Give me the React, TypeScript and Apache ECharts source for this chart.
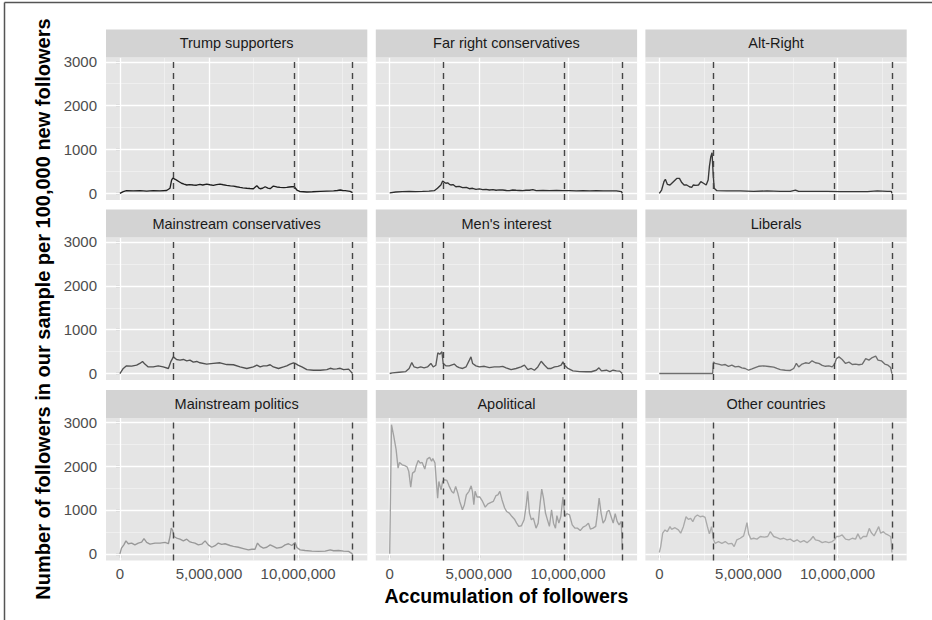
import React, { useEffect, useRef } from 'react';
import * as echarts from 'echarts';

// x values in millions of accumulated followers, y = followers per 100,000
const facetNames = [
  'Trump supporters', 'Far right conservatives', 'Alt-Right',
  'Mainstream conservatives', "Men's interest", 'Liberals',
  'Mainstream politics', 'Apolitical', 'Other countries',
];

const trumpSupporters = [[0,0],[0.19,40],[0.37,60],[0.75,55],[1.12,60],[1.5,50],[1.87,60],[2.25,55],[2.62,65],[2.81,115],[2.9,300],[2.97,350],[3.1,320],[3.18,300],[3.3,270],[3.46,230],[3.6,210],[3.75,190],[3.9,200],[4.12,190],[4.3,185],[4.49,205],[4.65,190],[4.87,210],[5.05,195],[5.24,180],[5.42,200],[5.62,210],[5.8,195],[5.99,180],[6.2,170],[6.37,165],[6.55,150],[6.74,135],[6.9,125],[7.12,115],[7.3,110],[7.49,105],[7.68,175],[7.8,120],[7.87,105],[8.0,115],[8.15,150],[8.3,120],[8.43,105],[8.61,165],[8.8,145],[8.99,135],[9.2,130],[9.36,135],[9.5,145],[9.64,150],[9.78,150],[9.93,75],[10.11,40],[10.3,35],[10.49,30],[10.8,35],[11.24,45],[11.6,50],[11.99,55],[12.2,65],[12.36,75],[12.5,65],[12.64,60],[12.92,45],[13.05,15]];

const farRightConservatives = [[0,10],[0.34,30],[0.7,40],[1.09,45],[1.45,40],[1.84,45],[2.2,50],[2.5,60],[2.68,115],[2.87,190],[2.97,280],[3.05,255],[3.15,230],[3.25,240],[3.35,205],[3.43,190],[3.55,200],[3.71,150],[3.9,160],[4.09,130],[4.3,135],[4.47,105],[4.65,115],[4.84,90],[5.03,100],[5.22,85],[5.4,90],[5.59,75],[5.8,85],[5.97,70],[6.15,80],[6.34,75],[6.55,65],[6.72,60],[6.9,75],[7.09,70],[7.3,65],[7.47,60],[7.65,70],[7.84,70],[8.03,85],[8.22,60],[8.6,65],[8.97,60],[9.35,65],[9.72,60],[10.1,60],[10.47,55],[10.85,60],[11.22,55],[11.6,60],[11.97,55],[12.35,55],[12.72,55],[13.0,40],[13.05,0]];

const altRight = [[0,0],[0.13,75],[0.26,265],[0.34,320],[0.45,205],[0.6,190],[0.79,265],[0.98,340],[1.13,340],[1.26,245],[1.39,190],[1.54,190],[1.69,150],[1.82,135],[1.91,190],[2.06,180],[2.2,190],[2.33,265],[2.48,230],[2.63,190],[2.74,305],[2.81,610],[2.89,835],[2.96,925],[3.02,455],[3.08,115],[3.23,60],[3.79,55],[4.54,55],[5.29,45],[6.04,55],[6.79,45],[7.35,45],[7.64,75],[7.82,45],[8.67,45],[9.42,45],[10.17,40],[10.92,40],[11.67,40],[12.23,55],[12.8,45],[13.02,45],[13.05,0]];

const mainstreamConservatives = [[0,0],[0.19,115],[0.37,175],[0.66,170],[0.94,190],[1.12,230],[1.27,275],[1.4,215],[1.59,150],[1.87,150],[2.15,175],[2.43,150],[2.72,115],[2.85,265],[3.0,380],[3.18,320],[3.37,305],[3.56,320],[3.75,290],[3.93,305],[4.12,260],[4.31,275],[4.49,245],[4.87,215],[5.24,230],[5.62,245],[5.99,205],[6.37,200],[6.74,150],[7.12,115],[7.49,150],[7.68,190],[7.87,150],[8.05,175],[8.24,175],[8.43,200],[8.61,150],[8.9,115],[9.18,150],[9.36,175],[9.55,215],[9.74,245],[9.83,230],[10.02,185],[10.21,150],[10.49,90],[10.86,75],[11.24,75],[11.61,90],[11.8,120],[11.99,100],[12.17,105],[12.36,120],[12.55,90],[12.83,100],[12.92,60],[13.05,0]];

const mensInterest = [[0,0],[0.15,15],[0.53,30],[0.9,45],[1.09,115],[1.24,250],[1.37,150],[1.56,130],[1.74,150],[1.93,130],[2.12,150],[2.31,230],[2.44,150],[2.59,190],[2.7,470],[2.81,440],[2.93,495],[3.0,230],[3.15,175],[3.34,175],[3.62,215],[3.75,165],[3.9,135],[4.09,115],[4.28,150],[4.47,305],[4.56,380],[4.65,230],[4.84,175],[5.03,150],[5.31,165],[5.59,135],[5.87,150],[6.15,150],[6.34,165],[6.53,130],[6.81,90],[7.09,115],[7.37,150],[7.56,190],[7.75,90],[7.94,115],[8.12,75],[8.31,150],[8.5,280],[8.69,190],[8.87,115],[9.06,115],[9.25,150],[9.44,165],[9.62,190],[9.72,265],[9.81,190],[10.0,115],[10.28,60],[10.66,45],[11.03,40],[11.31,40],[11.59,75],[11.74,130],[11.88,60],[12.16,75],[12.35,45],[12.53,75],[12.72,60],[12.91,55],[13.05,0]];

const liberals = [[0,0],[2.99,0],[3.04,265],[3.13,230],[3.32,215],[3.51,190],[3.7,205],[3.88,165],[4.07,190],[4.26,150],[4.45,165],[4.63,130],[4.82,115],[5.01,75],[5.2,105],[5.38,135],[5.57,165],[5.85,175],[6.14,160],[6.42,145],[6.6,115],[6.79,90],[7.07,75],[7.35,70],[7.54,115],[7.69,230],[7.82,150],[8.01,215],[8.2,245],[8.39,230],[8.57,290],[8.76,245],[8.95,230],[9.14,185],[9.32,165],[9.51,175],[9.7,150],[9.83,215],[9.94,340],[10.08,380],[10.26,320],[10.45,230],[10.64,260],[10.83,205],[11.01,215],[11.2,200],[11.39,215],[11.58,340],[11.76,305],[11.95,365],[12.14,395],[12.27,305],[12.46,290],[12.65,215],[12.83,190],[12.98,135],[13.05,0]];

const mainstreamPolitics = [[0,0],[0.09,130],[0.22,205],[0.34,295],[0.47,230],[0.66,245],[0.84,205],[1.03,245],[1.22,265],[1.35,345],[1.5,260],[1.69,220],[1.97,245],[2.25,245],[2.53,260],[2.72,230],[2.81,395],[2.88,585],[2.96,535],[3.03,395],[3.18,360],[3.37,335],[3.56,295],[3.75,335],[3.9,280],[4.03,260],[4.21,245],[4.4,205],[4.59,220],[4.78,295],[4.96,205],[5.15,150],[5.34,185],[5.52,245],[5.71,215],[5.9,230],[6.18,190],[6.37,170],[6.65,150],[6.93,120],[7.21,90],[7.4,105],[7.58,105],[7.72,245],[7.87,170],[8.05,130],[8.24,150],[8.43,205],[8.61,170],[8.8,130],[9.08,150],[9.27,205],[9.46,230],[9.64,190],[9.83,260],[9.93,145],[10.11,90],[10.39,75],[10.77,60],[11.14,55],[11.52,60],[11.8,90],[11.99,70],[12.27,75],[12.55,60],[12.83,55],[13.05,0]];

const apolitical = [[0,0],[0.1,2945],[0.23,2680],[0.36,2375],[0.47,1955],[0.55,2085],[0.7,2030],[0.85,2010],[0.98,1980],[1.07,1880],[1.18,1520],[1.28,1840],[1.41,1880],[1.48,1995],[1.6,2130],[1.71,2070],[1.82,2085],[1.97,1935],[2.1,2160],[2.24,2200],[2.35,2110],[2.42,2175],[2.54,2070],[2.61,1690],[2.69,1270],[2.76,1650],[2.88,1460],[2.97,1650],[3.06,1690],[3.21,1675],[3.33,1550],[3.48,1420],[3.59,1385],[3.7,1535],[3.82,1385],[3.93,1195],[4.08,1005],[4.19,1120],[4.3,1345],[4.45,1425],[4.57,1550],[4.64,1425],[4.72,1120],[4.79,1425],[4.9,1295],[5.06,1295],[5.21,1195],[5.36,1065],[5.51,1140],[5.66,1170],[5.81,1195],[5.96,1325],[6.07,1345],[6.18,1425],[6.3,1235],[6.45,1045],[6.56,965],[6.71,930],[6.86,850],[7.0,790],[7.12,700],[7.24,625],[7.39,640],[7.54,775],[7.65,1080],[7.74,1425],[7.84,930],[7.95,775],[8.06,815],[8.21,585],[8.33,700],[8.44,1155],[8.53,1475],[8.63,1270],[8.74,930],[8.85,775],[8.96,625],[9.08,1005],[9.19,700],[9.3,585],[9.38,870],[9.49,700],[9.6,850],[9.72,1295],[9.83,850],[9.94,915],[10.09,890],[10.24,660],[10.39,585],[10.54,585],[10.69,530],[10.85,610],[11.0,640],[11.15,700],[11.26,565],[11.41,585],[11.56,625],[11.64,870],[11.75,1270],[11.86,930],[11.97,700],[12.09,775],[12.2,965],[12.31,990],[12.42,850],[12.54,700],[12.65,915],[12.76,740],[12.87,660],[12.99,740],[13.05,80]];

const otherCountries = [[0,30],[0.08,165],[0.19,470],[0.32,545],[0.45,505],[0.6,620],[0.69,560],[0.88,595],[1.07,545],[1.2,470],[1.35,620],[1.5,845],[1.63,785],[1.76,810],[1.88,735],[2.01,845],[2.14,885],[2.29,845],[2.44,860],[2.57,830],[2.7,620],[2.81,455],[2.93,620],[3.04,320],[3.13,240],[3.32,280],[3.51,240],[3.7,280],[3.88,225],[4.07,240],[4.2,165],[4.35,320],[4.54,355],[4.73,410],[4.82,545],[4.92,710],[5.01,455],[5.14,335],[5.29,355],[5.48,335],[5.67,395],[5.89,380],[6.08,395],[6.23,505],[6.42,395],[6.6,370],[6.79,335],[6.98,355],[7.17,320],[7.35,335],[7.54,280],[7.73,320],[7.92,265],[8.11,300],[8.29,255],[8.48,320],[8.63,395],[8.76,320],[8.95,300],[9.14,255],[9.32,280],[9.51,255],[9.7,280],[9.83,320],[9.94,395],[10.08,395],[10.26,430],[10.45,335],[10.64,320],[10.83,355],[11.01,335],[11.14,455],[11.29,335],[11.44,395],[11.63,395],[11.78,580],[11.89,485],[12.05,410],[12.2,530],[12.31,620],[12.42,470],[12.57,505],[12.7,455],[12.83,430],[12.98,395],[13.02,240],[13.05,30]];

const facetData = [
  trumpSupporters, farRightConservatives, altRight,
  mainstreamConservatives, mensInterest, liberals,
  mainstreamPolitics, apolitical, otherCountries,
];

const lineColors = ['#1e1e1e', '#2e2e2e', '#383838', '#515151', '#5a5a5a', '#6e6e6e', '#989898', '#a2a2a2', '#aaaaaa'];

const vlineXs = [3.0, 9.8, 13.05];
const xTickValues = [0, 5, 10];
const xMinorValues = [2.5, 7.5, 12.5];
const yTickValues = [0, 1000, 2000, 3000];
const yMinorValues = [500, 1500, 2500];

const xTitle = 'Accumulation of followers';
const yTitle = 'Number of followers in our sample per 100,000 new followers';

const FONT = '"Liberation Sans", Arial, Helvetica, sans-serif';

export default function App() {
  const ref = useRef<HTMLDivElement>(null);
  useEffect(() => {
    const chart = echarts.init(ref.current!, null, { renderer: 'svg' });
    const M = 1e6;
    const colLeft = [106, 375.8, 645.4];
    const colW = 261.3;
    const rowTop = [57.4, 237.6, 417.9];
    const rowH = 142.5;
    const stripH = 28;

    const grids: any[] = [];
    const xAxes: any[] = [];
    const yAxes: any[] = [];
    const series: any[] = [];
    const graphics: any[] = [];

    facetNames.forEach((name, i) => {
      const r = Math.floor(i / 3);
      const c = i % 3;
      grids.push({
        left: colLeft[c], top: rowTop[r], width: colW, height: rowH,
        show: true, backgroundColor: '#e5e5e5', borderWidth: 0,
      });
      xAxes.push({
        type: 'value', gridIndex: i, min: -0.78 * M, max: 13.88 * M,
        axisLine: { show: false }, splitLine: { show: false },
        axisTick: { show: r === 2, customValues: xTickValues.map(v => v * M), length: 4, lineStyle: { color: '#333333', width: 1.2 } },
        axisLabel: {
          show: r === 2, customValues: xTickValues.map(v => v * M),
          formatter: (v: number) => Number(v).toLocaleString('en-US'),
          color: '#4d4d4d', fontSize: 15, fontFamily: FONT, margin: 6,
        },
      });
      yAxes.push({
        type: 'value', gridIndex: i, min: -150, max: 3100,
        axisLine: { show: false }, splitLine: { show: false },
        axisTick: { show: c === 0, customValues: yTickValues, length: 4, lineStyle: { color: '#333333', width: 1.2 } },
        axisLabel: {
          show: c === 0, customValues: yTickValues,
          formatter: (v: number) => String(v),
          color: '#4d4d4d', fontSize: 15, fontFamily: FONT, margin: 9,
        },
      });
      // white grid lines
      series.push({
        type: 'line', xAxisIndex: i, yAxisIndex: i, data: [], silent: true, z: 1,
        markLine: {
          silent: true, z: 1, symbol: ['none', 'none'], label: { show: false },
          emphasis: { disabled: true },
          lineStyle: { color: '#ffffff', type: 'solid' },
          data: [
            ...yMinorValues.map(v => ({ yAxis: v, lineStyle: { width: 0.6, color: '#f5f5f5', type: 'solid' } })),
            ...xMinorValues.map(v => ({ xAxis: v * M, lineStyle: { width: 0.6, color: '#f5f5f5', type: 'solid' } })),
            ...yTickValues.map(v => ({ yAxis: v, lineStyle: { width: 1.3, color: '#ffffff', type: 'solid' } })),
            ...xTickValues.map(v => ({ xAxis: v * M, lineStyle: { width: 1.3, color: '#ffffff', type: 'solid' } })),
          ],
        },
      });
      // data line + dashed reference lines
      series.push({
        type: 'line', xAxisIndex: i, yAxisIndex: i, z: 3, silent: true,
        showSymbol: false, symbol: 'none',
        data: facetData[i].map(([x, y]) => [x * M, y]),
        lineStyle: { color: lineColors[i], width: 1.35 },
        markLine: {
          silent: true, z: 4, symbol: ['none', 'none'], label: { show: false },
          emphasis: { disabled: true },
          lineStyle: { color: '#454545', type: [6, 5], width: 1.4 },
          data: vlineXs.map(v => ({ xAxis: v * M })),
        },
      });
      // strip
      graphics.push({
        type: 'rect', silent: true, z: 100,
        shape: { x: colLeft[c], y: rowTop[r] - stripH, width: colW, height: stripH },
        style: { fill: '#d3d3d3' },
      });
      graphics.push({
        type: 'text', silent: true, z: 101,
        x: colLeft[c] + colW / 2, y: rowTop[r] - stripH / 2,
        style: { text: name, fill: '#1a1a1a', font: `14.5px ${FONT}`, textAlign: 'center', textVerticalAlign: 'middle' },
      });
    });

    graphics.push({
      type: 'text', silent: true, z: 101,
      x: colLeft[0] + (colLeft[2] + colW - colLeft[0]) / 2, y: 596,
      style: { text: xTitle, fill: '#000000', font: `bold 19.5px ${FONT}`, textAlign: 'center', textVerticalAlign: 'middle' },
    });
    graphics.push({
      type: 'text', silent: true, z: 101,
      x: 42.5, y: 309, rotation: Math.PI / 2,
      style: { text: yTitle, fill: '#000000', font: `bold 20px ${FONT}`, textAlign: 'center', textVerticalAlign: 'middle' },
    });
    // frame lines (top and left edge of the figure)
    graphics.push({
      type: 'line', silent: true, z: 101,
      shape: { x1: 4.5, y1: 2.5, x2: 932, y2: 2.5 },
      style: { stroke: '#555555', lineWidth: 1.5 },
    });
    graphics.push({
      type: 'line', silent: true, z: 101,
      shape: { x1: 4.5, y1: 2.5, x2: 4.5, y2: 620 },
      style: { stroke: '#555555', lineWidth: 1.5 },
    });

    chart.setOption({
      animation: false,
      backgroundColor: '#ffffff',
      grid: grids,
      xAxis: xAxes,
      yAxis: yAxes,
      series,
      graphic: graphics,
    });
    return () => chart.dispose();
  }, []);
  return <div ref={ref} style={{ position: 'fixed', left: 0, top: 0, width: 932, height: 620 }} />;
}
